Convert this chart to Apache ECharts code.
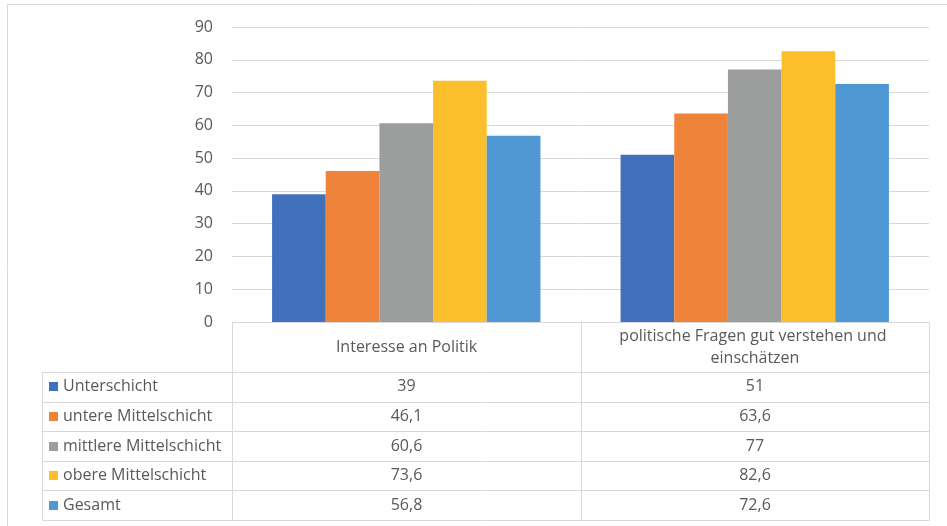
<!DOCTYPE html>
<html>
<head>
<meta charset="utf-8">
<script src="https://cdn.jsdelivr.net/npm/echarts@6/dist/echarts.min.js"></script>
<style>
  html, body { margin: 0; padding: 0; background: #fff; }
  #main { width: 947px; height: 526px; }
</style>
</head>
<body>
<div id="main"></div>
<script>
// Categories and series values
const categories = ['Interesse an Politik', 'politische Fragen gut verstehen und einschätzen'];
const seriesNames = ['Unterschicht', 'untere Mittelschicht', 'mittlere Mittelschicht', 'obere Mittelschicht', 'Gesamt'];
const unterschicht = [39, 51];
const untereMittelschicht = [46.1, 63.6];
const mittlereMittelschicht = [60.6, 77];
const obereMittelschicht = [73.6, 82.6];
const gesamt = [56.8, 72.6];
const yTicks = [0, 10, 20, 30, 40, 50, 60, 70, 80, 90];

const seriesValues = [unterschicht, untereMittelschicht, mittlereMittelschicht, obereMittelschicht, gesamt];
const colors = ['#4170BC', '#F0833A', '#9C9E9E', '#FCBE2B', '#4F98D3'];

const FONT = 'Open Sans';
const FONT_SIZE = 16;
const TEXT_COLOR = '#595959';
const LINE_COLOR = '#D9D9D9';

const chart = echarts.init(document.getElementById('main'), null, { renderer: 'canvas' });

const option = {
  animation: false,
  backgroundColor: '#fff',
  textStyle: { fontFamily: FONT },
  grid: { left: 232, right: 18, top: 27, bottom: 204, containLabel: false },
  xAxis: {
    type: 'category',
    data: categories,
    axisLine: { show: false },
    axisTick: { show: false },
    axisLabel: { show: false },
    splitLine: { show: false }
  },
  yAxis: {
    type: 'value',
    min: yTicks[0],
    max: yTicks[yTicks.length - 1],
    interval: 10,
    axisLine: { show: false },
    axisTick: { show: false },
    axisLabel: { color: TEXT_COLOR, fontSize: FONT_SIZE, margin: 19, fontFamily: FONT },
    splitLine: { lineStyle: { color: LINE_COLOR, width: 1 } }
  },
  series: seriesNames.map((name, i) => ({
    name: name,
    type: 'bar',
    data: seriesValues[i],
    itemStyle: { color: colors[i] },
    barGap: '0%',
    barCategoryGap: '23%'
  }))
};

chart.setOption(option);

// Data table below the plot, aligned to the category bands of the x axis
function fmt(v) {
  return String(v).replace('.', ',');
}

function buildTable() {
  const c0 = chart.convertToPixel({ xAxisIndex: 0 }, 0);
  const c1 = chart.convertToPixel({ xAxisIndex: 0 }, 1);
  const bw = c1 - c0;
  const edges = [c0 - bw / 2, c0 + bw / 2, c1 + bw / 2].map(Math.round);
  const yTop = Math.round(chart.convertToPixel({ yAxisIndex: 0 }, 0));
  const headerBottom = yTop + 50;
  const rowH = 29.6;
  const legendLeft = 42;
  const bottom = Math.round(headerBottom + rowH * seriesNames.length);
  const font = FONT_SIZE + 'px "' + FONT + '"';

  const els = [];
  const line = (x1, y1, x2, y2) => els.push({
    type: 'line',
    shape: { x1: x1, y1: y1, x2: x2, y2: y2 },
    style: { stroke: LINE_COLOR, lineWidth: 1 },
    silent: true
  });

  // chart frame
  els.push({
    type: 'rect',
    shape: { x: 7.5, y: 4.5, width: 1000, height: 1000 },
    style: { fill: null, stroke: LINE_COLOR, lineWidth: 1 },
    silent: true
  });

  // horizontal rules
  line(edges[0], yTop + 0.5, edges[2], yTop + 0.5);
  for (let i = 0; i <= seriesNames.length; i++) {
    const y = Math.round(headerBottom + rowH * i) + 0.5;
    line(legendLeft, y, edges[2], y);
  }
  // vertical rules
  line(legendLeft + 0.5, headerBottom, legendLeft + 0.5, bottom + 0.5);
  edges.forEach(x => line(x + 0.5, yTop, x + 0.5, bottom + 0.5));

  // column headers
  categories.forEach((cat, j) => {
    els.push({
      type: 'text',
      x: (edges[j] + edges[j + 1]) / 2,
      y: (yTop + headerBottom) / 2,
      style: {
        text: cat,
        width: edges[j + 1] - edges[j] - 40,
        overflow: 'break',
        lineHeight: 22,
        align: 'center',
        verticalAlign: 'middle',
        fill: TEXT_COLOR,
        font: font
      },
      silent: true
    });
  });

  // rows: legend key, series name, values
  seriesNames.forEach((name, i) => {
    const cy = headerBottom + rowH * i + rowH / 2;
    els.push({
      type: 'rect',
      shape: { x: 49, y: Math.round(cy - 4.5), width: 9, height: 9 },
      style: { fill: colors[i] },
      silent: true
    });
    els.push({
      type: 'text',
      x: 63,
      y: cy,
      style: {
        text: name,
        align: 'left',
        verticalAlign: 'middle',
        fill: TEXT_COLOR,
        font: font
      },
      silent: true
    });
    seriesValues[i].forEach((v, j) => {
      els.push({
        type: 'text',
        x: (edges[j] + edges[j + 1]) / 2,
        y: cy,
        style: {
          text: fmt(v),
          align: 'center',
          verticalAlign: 'middle',
          fill: TEXT_COLOR,
          font: font
        },
        silent: true
      });
    });
  });

  chart.setOption({ graphic: { elements: els } });
}

buildTable();
</script>
</body>
</html>
